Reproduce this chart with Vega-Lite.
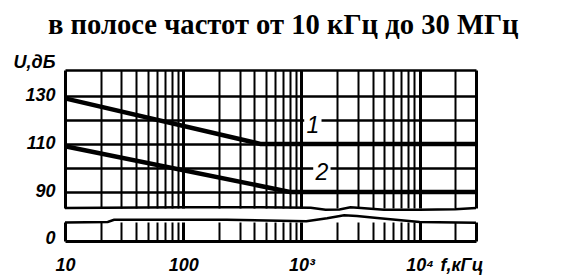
{
  "$schema": "https://vega.github.io/schema/vega-lite/v6.json",
  "autosize": {"type": "none"},
  "padding": {"left": 65, "top": 70, "right": 514, "bottom": 205},
  "background": "white",
  "bounds": "flush",
  "spacing": 14,
  "config": {"view": {"stroke": null}},
  "title": {
    "text": "в полосе частот от 10 кГц до 30 МГц",
    "font": "Liberation Serif",
    "fontSize": 28.6,
    "fontWeight": "bold",
    "color": "black",
    "anchor": "start",
    "frame": "group",
    "dx": -17,
    "offset": 13
  },
  "datasets": {
    "curves": [
      {"s": "1", "f": 10, "u": 129},
      {"s": "1", "f": 450, "u": 110},
      {"s": "1", "f": 30000, "u": 110},
      {"s": "2", "f": 10, "u": 109},
      {"s": "2", "f": 800, "u": 90},
      {"s": "2", "f": 30000, "u": 90}
    ],
    "labels": [
      {"t": "1", "f": 1250, "u": 117.5},
      {"t": "2", "f": 1490, "u": 97.8}
    ],
    "edgeUpper": [
      {"f": 10, "u": 83.3},
      {"f": 100, "u": 83.6},
      {"f": 450, "u": 83.6},
      {"f": 1200, "u": 83.4},
      {"f": 1600, "u": 82.6},
      {"f": 2100, "u": 82.7},
      {"f": 2600, "u": 83.6},
      {"f": 3200, "u": 83.3},
      {"f": 5000, "u": 82.6},
      {"f": 10000, "u": 82.6},
      {"f": 20000, "u": 82.8},
      {"f": 30000, "u": 83.3}
    ],
    "edgeLower": [
      {"f": 10, "u": 4.9},
      {"f": 23, "u": 5.0},
      {"f": 26, "u": 5.6},
      {"f": 234, "u": 5.6},
      {"f": 1100, "u": 5.2},
      {"f": 1650, "u": 6.0},
      {"f": 2300, "u": 6.8},
      {"f": 2950, "u": 6.6},
      {"f": 4600, "u": 6.0},
      {"f": 10000, "u": 5.0},
      {"f": 30000, "u": 4.8}
    ]
  },
  "vconcat": [
    {
      "width": 411,
      "height": 138,
      "encoding": {
        "x": {
          "field": "f",
          "type": "quantitative",
          "scale": {"type": "log", "domain": [10, 30000], "nice": false},
          "axis": {
            "values": [10, 20, 30, 40, 50, 60, 70, 80, 90, 100, 200, 300, 400, 500, 600, 700, 800, 900, 1000, 2000, 3000, 4000, 5000, 6000, 7000, 8000, 9000, 10000, 20000, 30000],
            "labels": false,
            "ticks": false,
            "domain": false,
            "grid": true,
            "gridColor": "black",
            "gridOpacity": 1,
            "gridWidth": {"condition": {"test": "datum.value == 10 || datum.value == 100 || datum.value == 1000 || datum.value == 10000 || datum.value == 30000", "value": 3}, "value": 2},
            "title": null
          }
        },
        "y": {
          "field": "u",
          "type": "quantitative",
          "scale": {"domain": [83.3, 140.8], "nice": false, "zero": false},
          "axis": {
            "values": [90, 100, 110, 120, 130, 140.8],
            "labelExpr": "datum.value == 90 || datum.value == 110 || datum.value == 130 ? datum.label : ''",
            "grid": true,
            "gridColor": "black",
            "gridOpacity": 1,
            "gridWidth": 2.5,
            "ticks": false,
            "tickSize": 0,
            "domain": false,
            "labelFont": "Liberation Sans",
            "labelFontSize": 18,
            "labelFontStyle": "italic",
            "labelFontWeight": "bold",
            "labelColor": "black",
            "labelPadding": 10,
            "title": "U,дБ",
            "titleFont": "Liberation Sans",
            "titleFontSize": 18,
            "titleFontStyle": "italic",
            "titleFontWeight": "bold",
            "titleColor": "black",
            "titleAngle": 0,
            "titleAlign": "left",
            "titleBaseline": "middle",
            "titleX": -52,
            "titleY": -8
          }
        }
      },
      "layer": [
        {
          "data": {"name": "curves"},
          "mark": {"type": "line", "color": "black", "strokeWidth": 4.5},
          "encoding": {"detail": {"field": "s"}}
        },
        {
          "data": {"name": "edgeUpper"},
          "mark": {"type": "line", "color": "black", "strokeWidth": 2.5}
        },
        {
          "data": {"name": "labels"},
          "mark": {"type": "point", "shape": "square", "filled": true, "color": "white", "opacity": 1, "size": 300}
        },
        {
          "data": {"name": "labels"},
          "mark": {"type": "text", "font": "Liberation Sans", "fontSize": 23, "fontStyle": "italic", "color": "black", "baseline": "middle", "align": "center"},
          "encoding": {"text": {"field": "t"}}
        }
      ]
    },
    {
      "width": 411,
      "height": 19,
      "data": {"name": "edgeLower"},
      "mark": {"type": "line", "color": "black", "strokeWidth": 2.5},
      "encoding": {
        "x": {
          "field": "f",
          "type": "quantitative",
          "scale": {"type": "log", "domain": [10, 30000], "nice": false},
          "axis": {
            "values": [10, 20, 30, 40, 50, 60, 70, 80, 90, 100, 200, 300, 400, 500, 600, 700, 800, 900, 1000, 2000, 3000, 4000, 5000, 6000, 7000, 8000, 9000, 10000, 20000, 30000],
            "labelExpr": "datum.value == 10 ? '10' : datum.value == 100 ? '100' : datum.value == 1000 ? '10³' : datum.value == 10000 ? '10⁴' : ''",
            "grid": true,
            "gridColor": "black",
            "gridOpacity": 1,
            "gridWidth": {"condition": {"test": "datum.value == 10 || datum.value == 100 || datum.value == 1000 || datum.value == 10000 || datum.value == 30000", "value": 3}, "value": 2},
            "ticks": false,
            "tickSize": 0,
            "domain": true,
            "domainColor": "black",
            "domainWidth": 3,
            "labelFont": "Liberation Sans",
            "labelFontSize": 18,
            "labelFontStyle": "italic",
            "labelFontWeight": "bold",
            "labelColor": "black",
            "labelPadding": 15,
            "labelFlush": false,
            "labelOverlap": false,
            "labelBound": false,
            "title": "f,кГц",
            "titleFont": "Liberation Sans",
            "titleFontSize": 18,
            "titleFontStyle": "italic",
            "titleFontWeight": "bold",
            "titleColor": "black",
            "titleAlign": "left",
            "titleBaseline": "middle",
            "titleX": 375,
            "titleY": 24
          }
        },
        "y": {
          "field": "u",
          "type": "quantitative",
          "scale": {"domain": [0, 5], "nice": false, "zero": false},
          "axis": {
            "values": [0],
            "grid": false,
            "ticks": false,
            "tickSize": 0,
            "domain": false,
            "labelFont": "Liberation Sans",
            "labelFontSize": 18,
            "labelFontStyle": "italic",
            "labelFontWeight": "bold",
            "labelColor": "black",
            "labelPadding": 10,
            "labelOffset": -3,
            "title": null
          }
        }
      }
    }
  ]
}
